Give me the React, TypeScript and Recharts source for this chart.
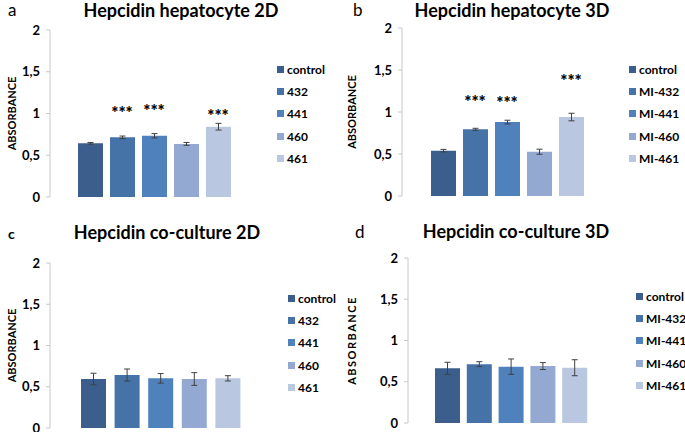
import {
  ComposedChart,
  Bar,
  Cell,
  ErrorBar,
  Line,
  LabelList,
  XAxis,
  YAxis,
} from 'recharts';

const categories2D = ['control', '432', '441', '460', '461'];
const categories3D = ['control', 'MI-432', 'MI-441', 'MI-460', 'MI-461'];
const barColors = ['#3b5e8c', '#4572a7', '#4f81bd', '#93a9d1', '#b9c7e1'];
const yTicks = [0, 0.5, 1, 1.5, 2];

// hepatocyte 2D
const hep2DValues = [0.643, 0.715, 0.733, 0.636, 0.842];
const hep2DErrors = [0.01, 0.015, 0.026, 0.017, 0.04];
const hep2DStars = [null, 1.055, 1.078, null, 1.018];

// hepatocyte 3D
const hep3DValues = [0.54, 0.794, 0.88, 0.527, 0.94];
const hep3DErrors = [0.015, 0.012, 0.022, 0.03, 0.045];
const hep3DStars = [null, 1.167, 1.155, null, 1.417];

// co-culture 2D
const co2DValues = [0.594, 0.642, 0.602, 0.594, 0.602];
const co2DErrors = [0.07, 0.073, 0.058, 0.077, 0.032];

// co-culture 3D
const co3DValues = [0.663, 0.713, 0.683, 0.69, 0.67];
const co3DErrors = [0.073, 0.03, 0.093, 0.042, 0.097];

const FONT = 'Lato, "Liberation Sans", sans-serif';

const buildRows = (
  cats: string[],
  values: number[],
  errors: number[],
  stars?: (number | null)[]
) =>
  cats.map((name, i) => ({
    name,
    value: values[i],
    err: errors[i],
    star: stars ? stars[i] : null,
  }));

const StarLabel = (props: any) => {
  const { x, y, value } = props;
  if (value == null || x == null || y == null) return null;
  return (
    <text
      x={x}
      y={y + 10}
      textAnchor="middle"
      fontFamily={FONT}
      fontWeight="900"
      fontSize={17}
      fill="#000"
    >
      ***
    </text>
  );
};

interface PanelProps {
  rows: ReturnType<typeof buildRows>;
  left: number;
  top: number;
  width: number;
  height: number;
  margin: { top: number; right: number; bottom: number; left: number };
  axisWidth: number;
  pad: { left: number; right: number };
  legendX: number;
  legendY: number;
  labelSpacing?: number;
}

function Panel({
  rows,
  left,
  top,
  width,
  height,
  margin,
  axisWidth,
  pad,
  legendX,
  legendY,
  labelSpacing = 0,
}: PanelProps) {
  const yLabel = (props: any) => {
    const vb = props.viewBox;
    const cx = vb.x + 11;
    const cy = vb.y + vb.height / 2;
    return (
      <text
        x={cx}
        y={cy}
        transform={`rotate(-90 ${cx} ${cy})`}
        textAnchor="middle"
        dominantBaseline="central"
        fontFamily={FONT}
        fontWeight="bold"
        fontSize={11}
        letterSpacing={labelSpacing}
        fill="#000"
      >
        ABSORBANCE
      </text>
    );
  };

  return (
    <div style={{ position: 'absolute', left, top, width, height }}>
      <ComposedChart width={width} height={height} data={rows} margin={margin}>
        <XAxis dataKey="name" type="category" hide padding={pad} />
        <YAxis
          width={axisWidth}
          domain={[0, 2]}
          ticks={yTicks}
          interval={0}
          tickFormatter={(v: number) => String(v).replace('.', ',')}
          tick={{ fontSize: 13, fontWeight: 'bold', fill: '#000', fontFamily: FONT }}
          tickSize={4}
          tickMargin={6}
          tickLine={{ stroke: '#c8c8c8' }}
          axisLine={{ stroke: '#c8c8c8' }}
          label={yLabel}
        />
        <Bar dataKey="value" barSize={25} isAnimationActive={false}>
          {rows.map((r, i) => (
            <Cell key={r.name} fill={barColors[i]} />
          ))}
          <ErrorBar dataKey="err" width={3} stroke="#404040" strokeWidth={1} />
        </Bar>
        <Line
          dataKey="star"
          stroke="none"
          dot={false}
          activeDot={false}
          legendType="none"
          isAnimationActive={false}
        >
          <LabelList dataKey="star" content={StarLabel} />
        </Line>
      </ComposedChart>
      <div
        style={{
          position: 'absolute',
          left: legendX,
          top: legendY,
          fontFamily: FONT,
          whiteSpace: 'nowrap',
        }}
      >
        {rows.map((r, i) => (
          <div
            key={r.name}
            style={{ display: 'flex', alignItems: 'center', height: 22.4 }}
          >
            <span
              style={{
                display: 'inline-block',
                width: 7,
                height: 7,
                background: barColors[i],
                marginRight: 3,
              }}
            />
            <span style={{ fontSize: 12, fontWeight: 'bold', color: '#000' }}>
              {r.name}
            </span>
          </div>
        ))}
      </div>
    </div>
  );
}

const titleStyle = {
  fontFamily: FONT,
  fontWeight: 'bold' as const,
  fontSize: 18,
  fill: '#000',
};
const letterStyle = { fontFamily: FONT, fontSize: 17, fill: '#000' };

export default function App() {
  return (
    <div
      style={{
        position: 'absolute',
        left: 0,
        top: 0,
        width: 685,
        height: 432,
        background: '#fff',
        overflow: 'hidden',
      }}
    >
      <Panel
        rows={buildRows(categories2D, hep2DValues, hep2DErrors, hep2DStars)}
        left={0}
        top={0}
        width={340}
        height={210}
        margin={{ top: 30, right: 90, bottom: 13, left: 0 }}
        axisWidth={50}
        pad={{ left: 24, right: 16 }}
        legendX={277}
        legendY={58}
      />
      <Panel
        rows={buildRows(categories3D, hep3DValues, hep3DErrors, hep3DStars)}
        left={340}
        top={0}
        width={345}
        height={210}
        margin={{ top: 28, right: 83, bottom: 14, left: 0 }}
        axisWidth={62}
        pad={{ left: 25, right: 15 }}
        legendX={289}
        legendY={58}
      />
      <Panel
        rows={buildRows(categories2D, co2DValues, co2DErrors)}
        left={0}
        top={210}
        width={340}
        height={222}
        margin={{ top: 53, right: 85, bottom: 4, left: 0 }}
        axisWidth={50}
        pad={{ left: 27, right: 10 }}
        legendX={288}
        legendY={77}
      />
      <Panel
        rows={buildRows(categories3D, co3DValues, co3DErrors)}
        left={340}
        top={210}
        width={345}
        height={222}
        margin={{ top: 48, right: 84, bottom: 9, left: 0 }}
        axisWidth={68}
        pad={{ left: 24, right: 10 }}
        legendX={296}
        legendY={75}
        labelSpacing={1.5}
      />
      <svg
        width={685}
        height={432}
        style={{ position: 'absolute', left: 0, top: 0, pointerEvents: 'none' }}
      >
        <text x={8} y={16} {...letterStyle}>a</text>
        <text x={181} y={17} textAnchor="middle" {...titleStyle}>Hepcidin hepatocyte 2D</text>
        <text x={353} y={16} {...letterStyle}>b</text>
        <text x={512} y={17} textAnchor="middle" {...titleStyle}>Hepcidin hepatocyte 3D</text>
        <text x={8} y={239} {...letterStyle} fontWeight="bold" fontSize={14}>c</text>
        <text x={167} y={239} textAnchor="middle" {...titleStyle}>Hepcidin co-culture 2D</text>
        <text x={355} y={238} {...letterStyle}>d</text>
        <text x={516} y={238} textAnchor="middle" {...titleStyle}>Hepcidin co-culture 3D</text>
      </svg>
    </div>
  );
}
